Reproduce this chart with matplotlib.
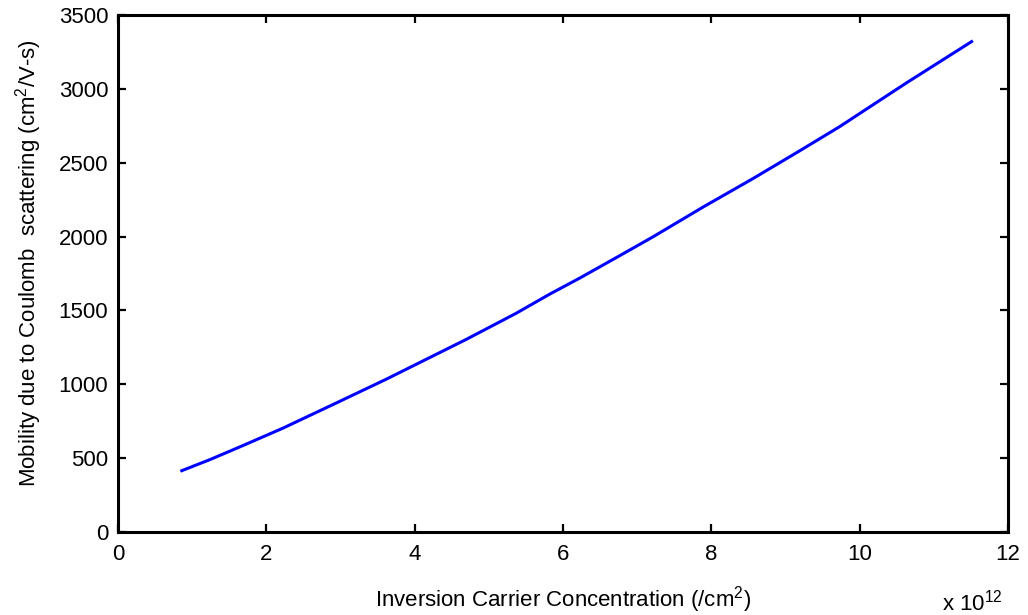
import matplotlib
matplotlib.use("Agg")
import matplotlib.pyplot as plt

plt.rcParams['font.family'] = ['Liberation Sans', 'DejaVu Sans']
plt.rcParams['mathtext.fontset'] = 'custom'
plt.rcParams['mathtext.rm'] = 'Liberation Sans'

# Inversion carrier concentration (units of 1e12 /cm^2)
carrier_conc = [0.86, 1.24, 1.67, 2.22, 2.95, 3.62, 3.80, 4.70, 5.37, 5.82,
                6.23, 6.77, 7.22, 7.89, 8.56, 9.19, 9.73, 10.63, 11.51]
# Coulomb-limited mobility (cm^2/V-s)
mobility = [415, 490, 582, 702, 875, 1035, 1080, 1305, 1481, 1610,
            1720, 1872, 2000, 2200, 2392, 2580, 2744, 3040, 3320]

x_ticks = [0, 2, 4, 6, 8, 10, 12]
y_ticks = [0, 500, 1000, 1500, 2000, 2500, 3000, 3500]

FS = 16

fig = plt.figure(figsize=(10.28, 6.15), dpi=100)
ax = fig.add_axes([0.1148, 0.1350, 0.8657, 0.8406])

ax.plot(carrier_conc, mobility, color='#0000ff', linewidth=2.2)

ax.set_xlim(0, 12)
ax.set_ylim(0, 3500)
ax.set_xticks(x_ticks)
ax.set_yticks(y_ticks)
ax.tick_params(direction='in', length=6, width=1.6, labelsize=FS,
               top=True, right=True, colors='black')
ax.tick_params(axis='x', pad=9)
ax.tick_params(axis='y', pad=7)
for sp in ax.spines.values():
    sp.set_linewidth(2.2)

ax.set_xlabel('Inversion Carrier Concentration (/cm$^2$)', fontsize=FS)
ax.xaxis.label.set_va('baseline')
ax.xaxis.set_label_coords(0.5, -0.145)

ax.set_ylabel('Mobility due to Coulomb  scattering (cm$^2$/V-s)', fontsize=FS)
ax.yaxis.set_label_coords(-0.083, 0.52)

fig.text(942 / 1028, 1 - 610 / 615, 'x 10$^{12}$', fontsize=FS,
         ha='left', va='baseline')

fig.savefig('out.png', dpi=100, facecolor='white')
